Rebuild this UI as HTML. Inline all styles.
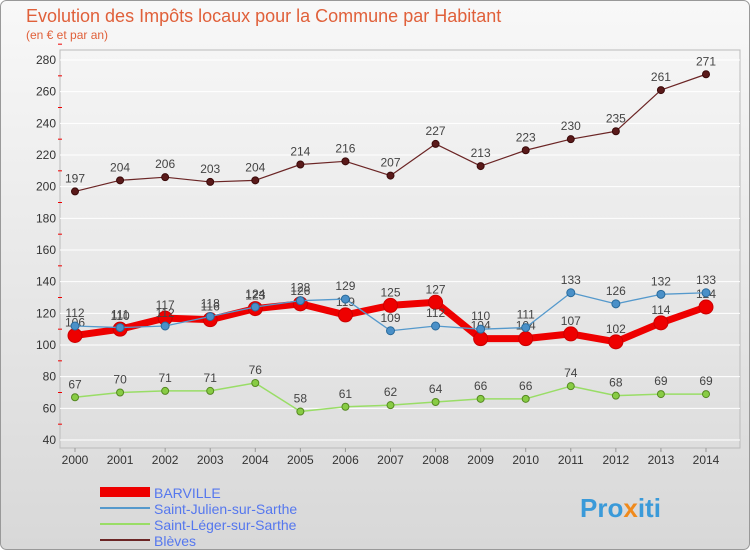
<!DOCTYPE html>
<html><head><meta charset="utf-8">
<style>
body{margin:0;background:#fff;font-family:"Liberation Sans",sans-serif;}
#wrap{position:relative;width:750px;height:550px;overflow:hidden;}
</style></head>
<body>
<div id="wrap">
<svg id="chart" width="750" height="550" xmlns="http://www.w3.org/2000/svg">
<defs>
<linearGradient id="bg" x1="0" y1="0" x2="0" y2="1">
<stop offset="0" stop-color="#f8f8f8"/><stop offset="1" stop-color="#d8d8d8"/>
</linearGradient>
</defs>
<rect x="0.5" y="0.5" width="749" height="549" rx="6" fill="url(#bg)" stroke="#999"/>
<text x="26" y="22" font-size="18" fill="#e0603a">Evolution des Impôts locaux pour la Commune par Habitant</text>
<text x="26" y="39" font-size="12" fill="#e0603a">(en € et par an)</text>
<g id="grid"></g><g id="axes"></g><g id="series"></g><g id="legend"></g>
<text x="580" y="517" font-size="26" font-weight="bold" fill="#3a9ad9">Pro<tspan fill="#f08a1c">x</tspan>iti</text>
</svg>
</div>
<script>
const years=[2000,2001,2002,2003,2004,2005,2006,2007,2008,2009,2010,2011,2012,2013,2014];
const yTicks=[40,60,80,100,120,140,160,180,200,220,240,260,280];
const barville=[106,110,117,116,123,126,119,125,127,104,104,107,102,114,124];
const stJulien=[112,111,112,118,124,128,129,109,112,110,111,133,126,132,133];
const stLeger=[67,70,71,71,76,58,61,62,64,66,66,74,68,69,69];
const bleves=[197,204,206,203,204,214,216,207,227,213,223,230,235,261,271];
const NS="http://www.w3.org/2000/svg";
const X=i=>75+i*(706-75)/14;
const Y=v=>440-(v-40)*380/240;
function mk(tag,attrs,parent){const e=document.createElementNS(NS,tag);for(const k in attrs)e.setAttribute(k,attrs[k]);parent.appendChild(e);return e;}
const grid=document.getElementById('grid'),axes=document.getElementById('axes'),ser=document.getElementById('series'),leg=document.getElementById('legend');
const frame=mk('rect',{x:60,y:50,width:680,height:398,fill:'none',stroke:'#bbb'},grid);


yTicks.forEach(v=>{
 const l=mk('line',{x1:60,x2:740,y1:Y(v),y2:Y(v),stroke:'#fff','stroke-width':1},grid);
 
 
 const t=mk('text',{x:56,y:Y(v)+4,'font-size':12,'text-anchor':'end',fill:'#333'},axes);
 t.textContent=v;
 
 
 const m=mk('line',{x1:58,x2:62,y1:Y(v+10),y2:Y(v+10),stroke:'#e00'},axes);
 
 
});
years.forEach((yr,i)=>{
 const t=mk('text',{x:X(i),y:464,'font-size':12,'text-anchor':'middle',fill:'#333'},axes);
 t.textContent=yr;
 
 
 const tk=mk('line',{x1:X(i),x2:X(i),y1:448,y2:452,stroke:'#999'},axes);
 
 
});
function draw(data,name,color,w,r,fill,stroke){
 const g=mk('g',{},ser);
 
 
 const p=mk('polyline',{points:data.map((v,i)=>X(i)+','+Y(v)).join(' '),fill:'none',stroke:color,'stroke-width':w,'stroke-linejoin':'round'},g);
 
 
 data.forEach((v,i)=>{
  const c=mk('circle',{cx:X(i),cy:Y(v),r:r,fill:fill,stroke:stroke,'stroke-width':1},g);
  
  
  const t=mk('text',{x:X(i),y:Y(v)-9,'font-size':12,'text-anchor':'middle',fill:'#444'},g);
  t.textContent=v;
  
  
 });
}
draw(bleves,'bleves','#6b2525',1.2,3.5,'#5a1a1a','#3a0a0a');
draw(stLeger,'saint-leger','#99dd66',1.5,3.5,'#88cc44','#558822');
draw(barville,'barville','#ee0000',7,7,'#ee0000','#cc0000');
draw(stJulien,'saint-julien','#5599cc',1.3,4,'#4a90c8','#2a6a9a');
const items=[['BARVILLE','#ee0000',10,'barville'],['Saint-Julien-sur-Sarthe','#5599cc',2,'saint-julien'],['Saint-Léger-sur-Sarthe','#99dd66',2,'saint-leger'],['Blèves','#6b2525',2,'bleves']];
items.forEach((it,k)=>{
 const y=492+k*16;
 const l=mk('line',{x1:100,x2:150,y1:y,y2:y,stroke:it[1],'stroke-width':it[2]},leg);
 
 
 const t=mk('text',{x:154,y:y+6,'font-size':14,fill:'#5577ee'},leg);
 t.textContent=it[0];
 
 
});
</script>
</body></html>
